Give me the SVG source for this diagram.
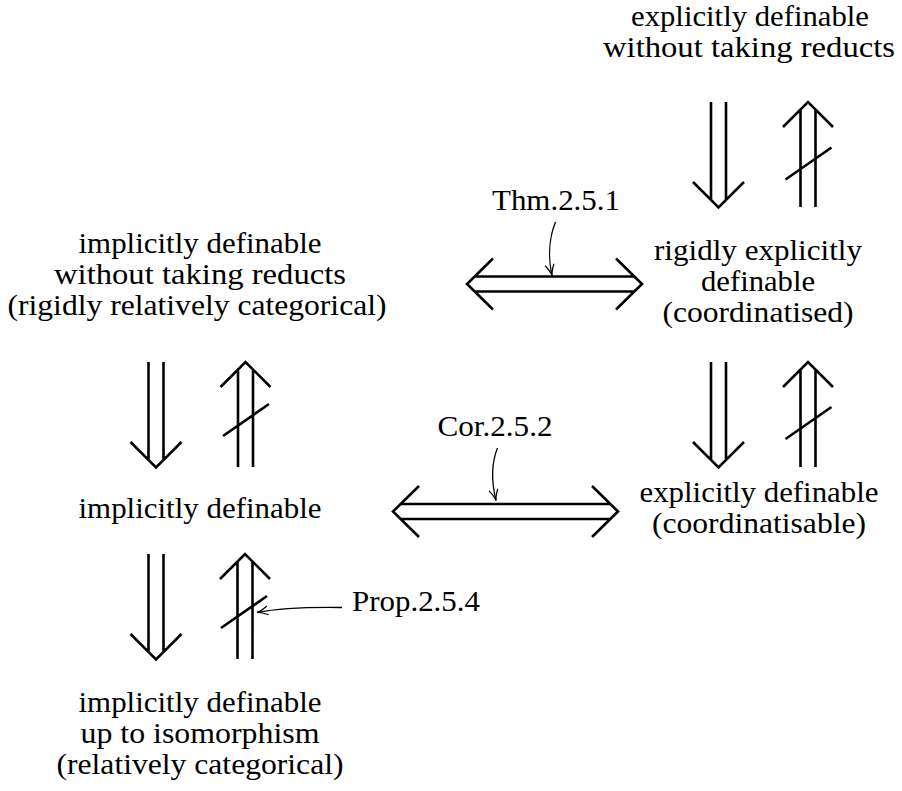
<svg xmlns="http://www.w3.org/2000/svg" width="902" height="791" viewBox="0 0 902 791">
<defs>
<style>
text{font-family:"Liberation Serif","Times New Roman",serif;font-size:29.5px;fill:#000;text-anchor:middle}
.dbl{fill:none;stroke:#000;stroke-width:2.6;stroke-linecap:butt;stroke-linejoin:miter}
.thin{fill:none;stroke:#000;stroke-width:1.3}
</style>
<marker id="tip" viewBox="-12 -6 14 12" refX="0" refY="0" markerWidth="14" markerHeight="12" markerUnits="userSpaceOnUse" orient="auto">
<path d="M -11,-4.5 C -6,-1.6 -2,-0.3 0,0 C -2,0.3 -6,1.6 -11,4.5" fill="none" stroke="#000" stroke-width="1.2"/>
</marker>
</defs>
<rect width="902" height="791" fill="#fff"/>
<g id="n-edwr">
<text x="750" y="26" textLength="238" lengthAdjust="spacingAndGlyphs">explicitly definable</text>
<text x="749" y="57" textLength="292" lengthAdjust="spacingAndGlyphs">without taking reducts</text>
</g>
<g id="n-red">
<text x="758" y="260" textLength="208" lengthAdjust="spacingAndGlyphs">rigidly explicitly</text>
<text x="758" y="291" textLength="114" lengthAdjust="spacingAndGlyphs">definable</text>
<text x="758" y="322" textLength="191" lengthAdjust="spacingAndGlyphs">(coordinatised)</text>
</g>
<g id="n-ed">
<text x="759" y="502" textLength="239" lengthAdjust="spacingAndGlyphs">explicitly definable</text>
<text x="759" y="533" textLength="214" lengthAdjust="spacingAndGlyphs">(coordinatisable)</text>
</g>
<g id="n-idwr">
<text x="200" y="253" textLength="243" lengthAdjust="spacingAndGlyphs">implicitly definable</text>
<text x="200" y="284" textLength="292" lengthAdjust="spacingAndGlyphs">without taking reducts</text>
<text x="197" y="315" textLength="379" lengthAdjust="spacingAndGlyphs">(rigidly relatively categorical)</text>
</g>
<g id="n-id">
<text x="200" y="518" textLength="243" lengthAdjust="spacingAndGlyphs">implicitly definable</text>
</g>
<g id="n-iso">
<text x="200" y="712" textLength="243" lengthAdjust="spacingAndGlyphs">implicitly definable</text>
<text x="200" y="743" textLength="239" lengthAdjust="spacingAndGlyphs">up to isomorphism</text>
<text x="200" y="774" textLength="287" lengthAdjust="spacingAndGlyphs">(relatively categorical)</text>
</g>
<g id="l-thm"><text x="556" y="210" textLength="128" lengthAdjust="spacingAndGlyphs">Thm.2.5.1</text></g>
<g id="l-cor"><text x="495" y="436" textLength="115" lengthAdjust="spacingAndGlyphs">Cor.2.5.2</text></g>
<g id="l-prop"><text x="416" y="611" textLength="128" lengthAdjust="spacingAndGlyphs">Prop.2.5.4</text></g>
<g id="connectors">
<path class="dbl" d="M711,102V200M726,102V200M693,182L718.5,207.5L744,182"/>
<path class="dbl" d="M800.5,207V109.5M815.5,207V109.5M783,127L808,102L833,127M785.5,179.5L831.5,147.5"/>
<path class="dbl" d="M711,362V460M726,362V460M693,442L718.5,467.5L744,442"/>
<path class="dbl" d="M800.5,467V369.5M815.5,467V369.5M783,387L808,362L833,387M785.5,439L831.5,407"/>
<path class="dbl" d="M148.5,362V460M163.5,362V460M130.5,442L156,467.5L181.5,442"/>
<path class="dbl" d="M238,467V369.5M253,467V369.5M220.5,387L245.5,362L270.5,387M223,436L269,404"/>
<path class="dbl" d="M148.5,554V652M163.5,554V652M130.5,634L156,659.5L181.5,634"/>
<path class="dbl" d="M237.5,659V561.5M252.5,659V561.5M220,579L245,554L270,579M221,628L267,596"/>
<path class="dbl" d="M474.5,276.5H634.5M474.5,291.5H634.5M493,258.5L467,284L493,309.5M616,258.5L642,284L616,309.5"/>
<path class="dbl" d="M400.5,504H610.5M400.5,519H610.5M419,486L393,511.5L419,537M592,486L618,511.5L592,537"/>
<path class="thin" d="M555.5,222C549,238 548,258 552,275.5" marker-end="url(#tip)"/>
<path class="thin" d="M497.5,448C491,464 492,484 496,500.5" marker-end="url(#tip)"/>
<path class="thin" d="M342,607.5C310,607 280,608 257,612.5" marker-end="url(#tip)"/>
</g>
</svg>
